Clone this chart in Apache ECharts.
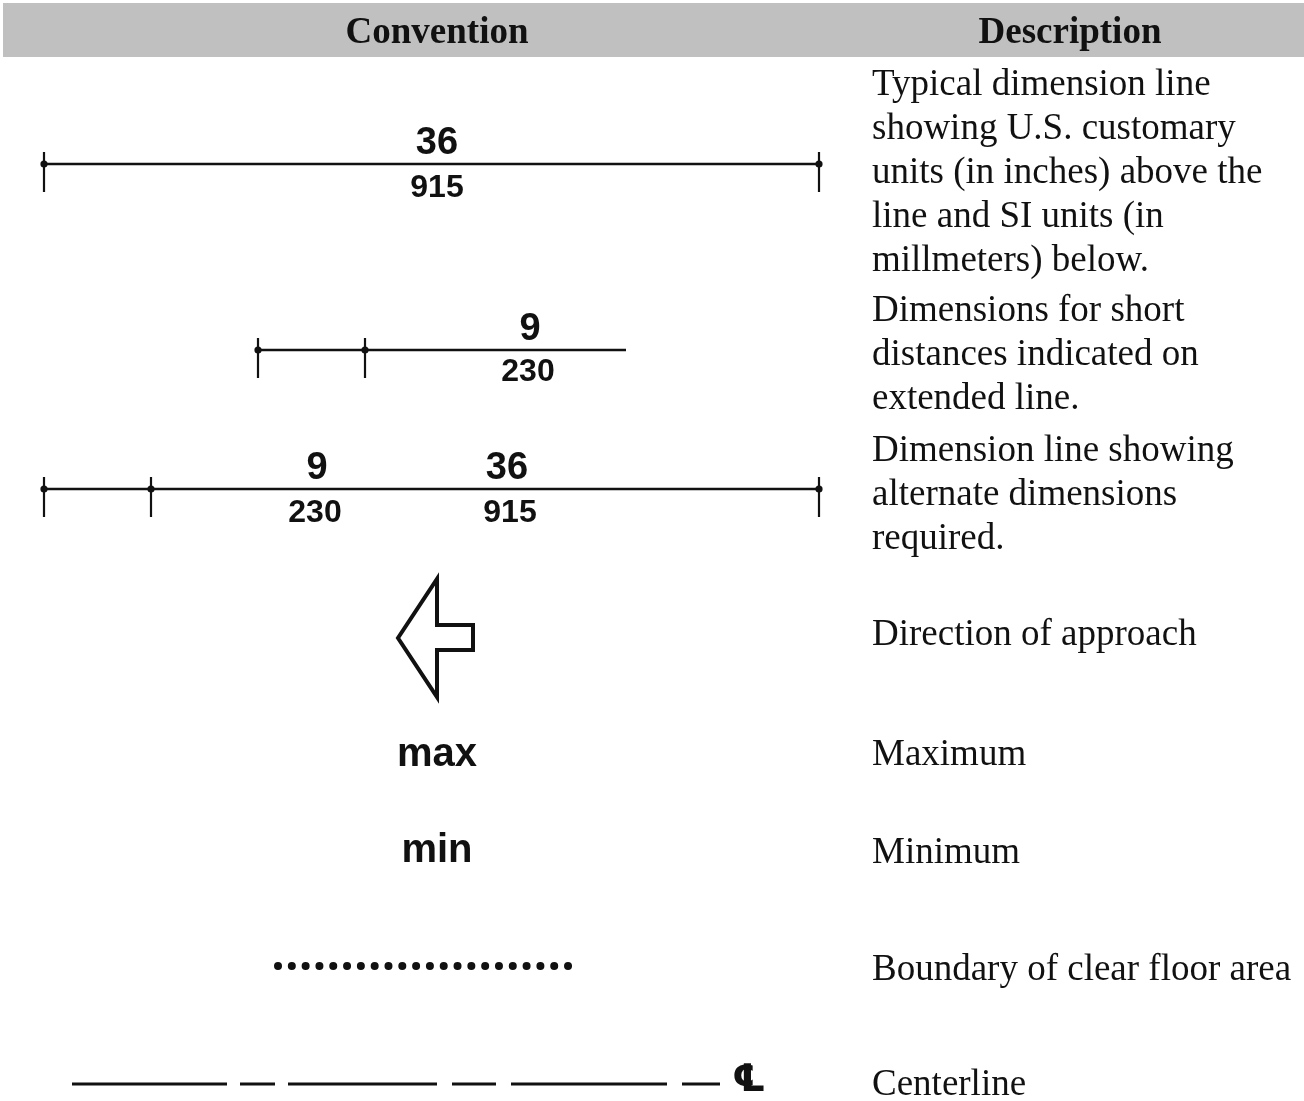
<!DOCTYPE html>
<html>
<head>
<meta charset="utf-8">
<script src="https://cdn.jsdelivr.net/npm/echarts@6/dist/echarts.min.js"></script>
<style>
html,body{margin:0;padding:0;background:#fff;}
#main{width:1304px;height:1101px;}
</style>
</head>
<body>
<div id="main"></div>
<script>
// ---- Table header ----
const headerLabels = ['Convention', 'Description'];
const headerX = [437, 1070];
const headerY = 33;
const headerBand = [[3, 3, 1304, 57]];

// ---- Descriptions (one block per row) ----
const descriptionBlocks = [
  ['Typical dimension line', 'showing U.S. customary', 'units (in inches) above the', 'line and SI units (in', 'millmeters) below.'],
  ['Dimensions for short', 'distances indicated on', 'extended line.'],
  ['Dimension line showing', 'alternate dimensions', 'required.'],
  ['Direction of approach'],
  ['Maximum'],
  ['Minimum'],
  ['Boundary of clear floor area'],
  ['Centerline']
];
const descriptionTopY = [85, 311, 451, 635, 755, 853, 970, 1085];
const descriptionX = 872;

// ---- Dimension lines ----
const dimLineY = [164, 350, 489];
const dimLineStart = [44, 258, 44];
const dimLineEnd = [819, 626, 819];
const dimTicks = [[44, 819], [258, 365], [44, 151, 819]];
const usLabels = [['36'], ['9'], ['9', '36']];
const usLabelX = [[437], [530], [317, 507]];
const usLabelY = [144, 330, 469];
const siLabels = [['915'], ['230'], ['230', '915']];
const siLabelX = [[437], [528], [315, 510]];
const siLabelY = [188, 372, 513];

// ---- Direction of approach arrow ----
const arrowPoints = [[437, 579], [437, 625], [473, 625], [473, 650], [437, 650], [437, 697], [398, 638]];

// ---- Abbreviations ----
const abbreviations = ['max', 'min'];
const abbreviationY = [755, 851];
const abbreviationX = 437;

// ---- Boundary of clear floor area ----
const boundaryLine = [[278, 966], [570, 966]];

// ---- Centerline ----
const centerlineSegments = [[72, 227], [240, 275], [288, 437], [452, 496], [511, 667], [682, 720]];
const centerlineY = 1084;
const centerlineSymbol = '\u2104';
const centerlineSymbolX = 749;

// ------------------------------------------------
const chart = echarts.init(document.getElementById('main'), null, {renderer: 'canvas'});
const serif = '"Liberation Serif", "Times New Roman", serif';
const sans = '"Liberation Sans", Arial, sans-serif';
const ink = '#111';

function textEl(api, x, y, text, style) {
  const p = api.coord([x, y]);
  return {
    type: 'text', x: p[0], y: p[1],
    style: Object.assign({text: text, fill: ink}, style)
  };
}

const descData = descriptionBlocks.map((b, i) => [descriptionX, descriptionTopY[i], i]);
const dimData = dimLineY.map((y, i) => [dimLineStart[i], dimLineEnd[i], y, i]);
const usData = [];
usLabels.forEach((row, i) => row.forEach((t, j) => usData.push([usLabelX[i][j], usLabelY[i], t])));
const siData = [];
siLabels.forEach((row, i) => row.forEach((t, j) => siData.push([siLabelX[i][j], siLabelY[i], t])));
const tickData = [];
dimTicks.forEach((row, i) => row.forEach(x => tickData.push([x, dimLineY[i]])));

const option = {
  animation: false,
  backgroundColor: '#fff',
  grid: {left: 0, right: 0, top: 0, bottom: 0},
  xAxis: {type: 'value', min: 0, max: 1304, show: false},
  yAxis: {type: 'value', min: 0, max: 1101, inverse: true, show: false},
  series: [
    { // header band
      type: 'custom', silent: true, data: headerBand,
      renderItem: function (params, api) {
        const p0 = api.coord([api.value(0), api.value(1)]);
        const p1 = api.coord([api.value(2), api.value(3)]);
        return {type: 'rect', shape: {x: p0[0], y: p0[1], width: p1[0] - p0[0], height: p1[1] - p0[1]}, style: {fill: '#c0c0c0'}};
      }
    },
    { // header labels
      type: 'custom', silent: true, data: headerLabels.map((t, i) => [headerX[i], headerY, i]),
      renderItem: function (params, api) {
        const i = api.value(2);
        return textEl(api, api.value(0), api.value(1), headerLabels[i], {
          fontFamily: serif, fontSize: 37, fontWeight: 'bold', align: 'center', verticalAlign: 'middle'
        });
      }
    },
    { // descriptions
      type: 'custom', silent: true, data: descData,
      renderItem: function (params, api) {
        const i = api.value(2);
        const lines = descriptionBlocks[i];
        return {
          type: 'group',
          children: lines.map((t, k) => textEl(api, api.value(0), api.value(1) + k * 44, t, {
            fontFamily: serif, fontSize: 37, align: 'left', verticalAlign: 'middle'
          }))
        };
      }
    },
    { // dimension lines
      type: 'custom', silent: true, data: dimData,
      renderItem: function (params, api) {
        const a = api.coord([api.value(0), api.value(2)]);
        const b = api.coord([api.value(1), api.value(2)]);
        return {type: 'line', shape: {x1: a[0], y1: a[1], x2: b[0], y2: b[1]}, style: {stroke: ink, lineWidth: 2.4}};
      }
    },
    { // ticks + dots
      type: 'custom', silent: true, data: tickData,
      renderItem: function (params, api) {
        const c = api.coord([api.value(0), api.value(1)]);
        const top = api.coord([api.value(0), api.value(1) - 12]);
        const bot = api.coord([api.value(0), api.value(1) + 28]);
        return {
          type: 'group', children: [
            {type: 'line', shape: {x1: top[0], y1: top[1], x2: bot[0], y2: bot[1]}, style: {stroke: ink, lineWidth: 2.2}},
            {type: 'circle', shape: {cx: c[0], cy: c[1], r: 3.6}, style: {fill: ink}}
          ]
        };
      }
    },
    { // US customary labels
      type: 'custom', silent: true, data: usData,
      renderItem: function (params, api) {
        return textEl(api, api.value(0), api.value(1), String(usData[params.dataIndex][2]), {
          fontFamily: sans, fontSize: 38, fontWeight: 'bold', align: 'center', verticalAlign: 'middle'
        });
      }
    },
    { // SI labels
      type: 'custom', silent: true, data: siData,
      renderItem: function (params, api) {
        return textEl(api, api.value(0), api.value(1), String(siData[params.dataIndex][2]), {
          fontFamily: sans, fontSize: 32, fontWeight: 'bold', align: 'center', verticalAlign: 'middle'
        });
      }
    },
    { // direction of approach arrow
      type: 'custom', silent: true, data: [0],
      renderItem: function (params, api) {
        return {
          type: 'polygon',
          shape: {points: arrowPoints.map(p => api.coord(p))},
          style: {fill: '#fff', stroke: ink, lineWidth: 4, lineJoin: 'miter'}
        };
      }
    },
    { // abbreviations
      type: 'custom', silent: true, data: abbreviations.map((t, i) => [abbreviationX, abbreviationY[i], i]),
      renderItem: function (params, api) {
        return textEl(api, api.value(0), api.value(1), abbreviations[api.value(2)], {
          fontFamily: sans, fontSize: 40, fontWeight: 'bold', align: 'center', verticalAlign: 'middle'
        });
      }
    },
    { // boundary of clear floor area (dots)
      type: 'line', silent: true, data: boundaryLine, symbol: 'none',
      lineStyle: {color: ink, width: 8, type: [0.01, 13.8], cap: 'round'}
    },
    { // centerline dashes
      type: 'custom', silent: true, data: centerlineSegments.map(s => [s[0], s[1], centerlineY]),
      renderItem: function (params, api) {
        const a = api.coord([api.value(0), api.value(2)]);
        const b = api.coord([api.value(1), api.value(2)]);
        return {type: 'line', shape: {x1: a[0], y1: a[1], x2: b[0], y2: b[1]}, style: {stroke: ink, lineWidth: 3}};
      }
    },
    { // centerline symbol
      type: 'custom', silent: true, data: [[centerlineSymbolX, centerlineY - 3]],
      renderItem: function (params, api) {
        return textEl(api, api.value(0), api.value(1), centerlineSymbol, {
          fontFamily: '"DejaVu Sans", sans-serif', fontSize: 38, fontWeight: 'bold', align: 'center', verticalAlign: 'middle'
        });
      }
    }
  ]
};
chart.setOption(option);
</script>
</body>
</html>
